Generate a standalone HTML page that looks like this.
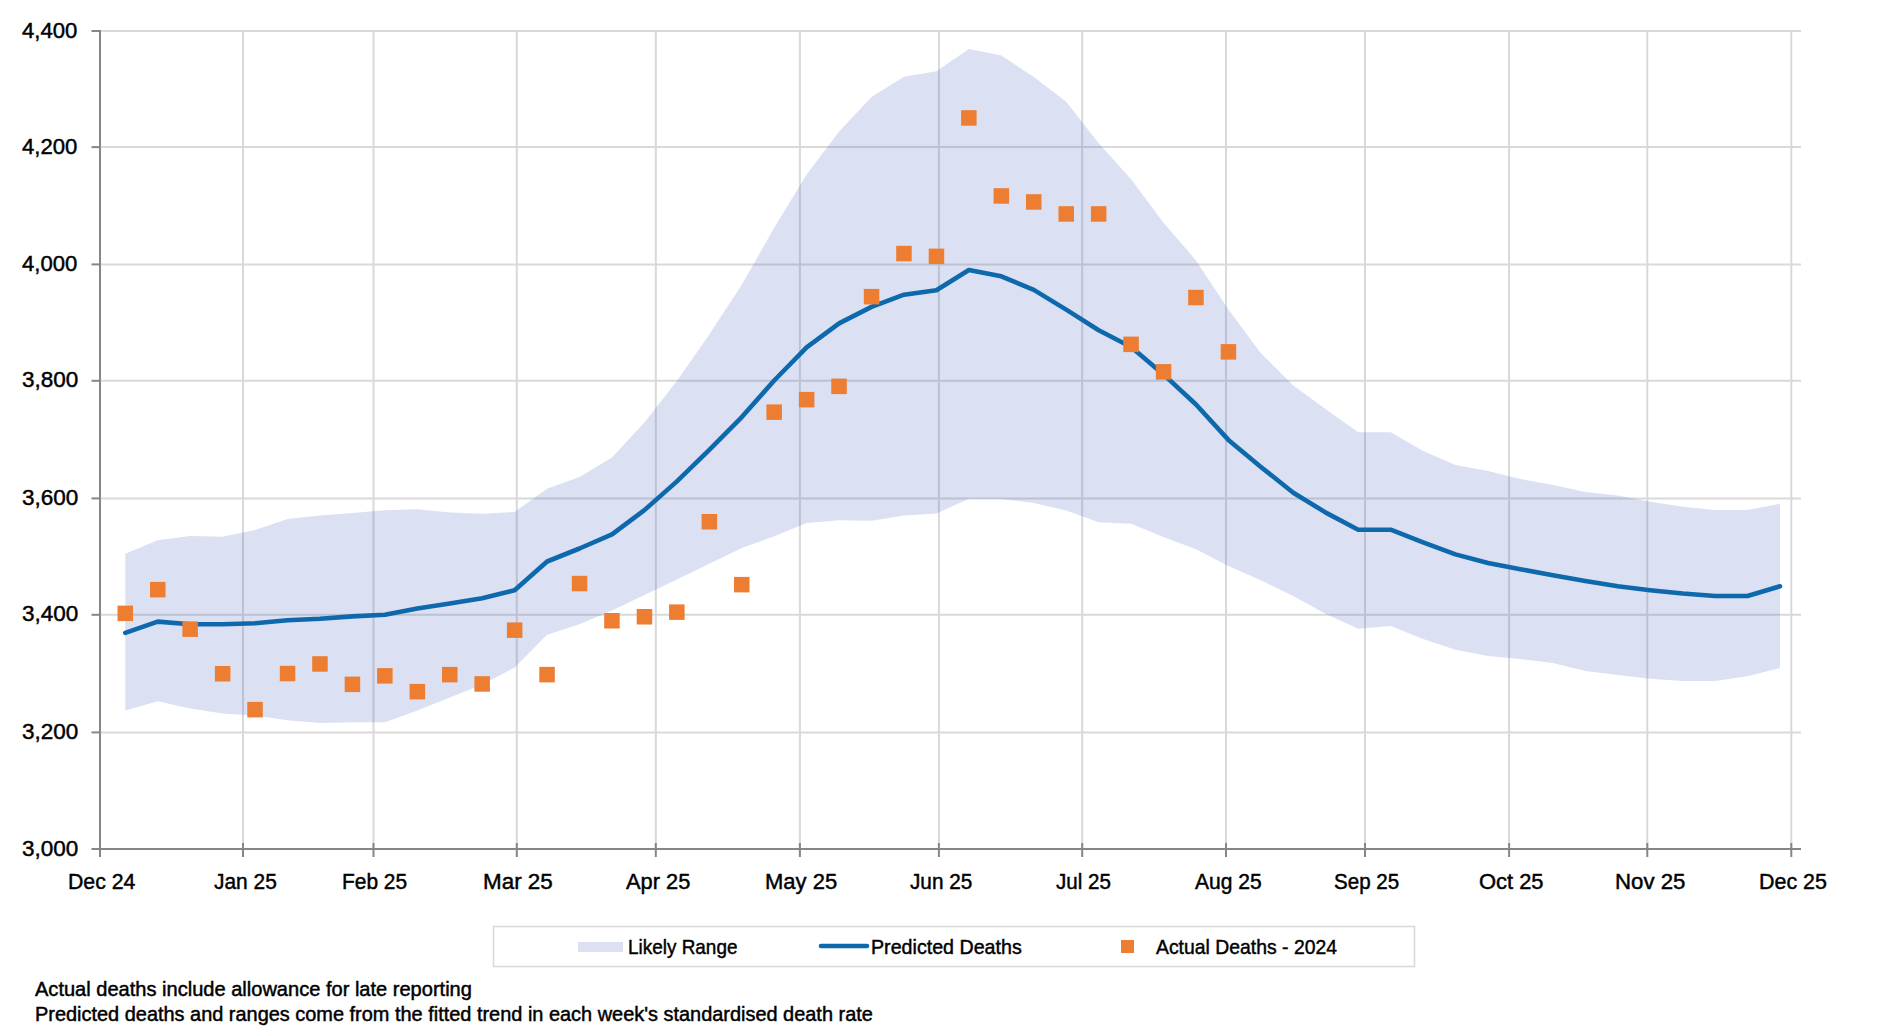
<!DOCTYPE html>
<html><head><meta charset="utf-8">
<style>
html,body{margin:0;padding:0;background:#fff;}
body{width:1886px;height:1032px;overflow:hidden;position:relative;font-family:"Liberation Sans",sans-serif;}
svg{position:absolute;left:0;top:0;}
.g{stroke:#d9d9d9;stroke-width:2;}
.ax{stroke:#868686;stroke-width:2;}
.band{fill:#4b64c3;fill-opacity:0.2;stroke:none;}
.ln{fill:none;stroke:#0e68ac;stroke-width:4.6;stroke-linejoin:round;stroke-linecap:round;}
.sq{fill:#ed7d31;}
.t{position:absolute;white-space:nowrap;line-height:1;color:#000;-webkit-text-stroke:0.45px #000;transform-origin:0 0;font-family:"Liberation Sans",sans-serif;}
.yl{font-size:22px;text-anchor:end;}
.xl{font-size:22px;text-anchor:middle;}
.xls{font-size:22px;}
.lg{font-size:21px;}
.ft{font-size:19.3px;}
</style></head><body>
<svg width="1886" height="1032" viewBox="0 0 1886 1032">
<line x1="100" y1="31" x2="1801" y2="31" class="g"/>
<line x1="100" y1="147.1" x2="1801" y2="147.1" class="g"/>
<line x1="100" y1="264.4" x2="1801" y2="264.4" class="g"/>
<line x1="100" y1="380.8" x2="1801" y2="380.8" class="g"/>
<line x1="100" y1="498.4" x2="1801" y2="498.4" class="g"/>
<line x1="100" y1="614.8" x2="1801" y2="614.8" class="g"/>
<line x1="100" y1="732.4" x2="1801" y2="732.4" class="g"/>
<line x1="243" y1="31" x2="243" y2="849" class="g"/>
<line x1="373.5" y1="31" x2="373.5" y2="849" class="g"/>
<line x1="516.8" y1="31" x2="516.8" y2="849" class="g"/>
<line x1="655.8" y1="31" x2="655.8" y2="849" class="g"/>
<line x1="799.9" y1="31" x2="799.9" y2="849" class="g"/>
<line x1="938.9" y1="31" x2="938.9" y2="849" class="g"/>
<line x1="1082.2" y1="31" x2="1082.2" y2="849" class="g"/>
<line x1="1226" y1="31" x2="1226" y2="849" class="g"/>
<line x1="1365" y1="31" x2="1365" y2="849" class="g"/>
<line x1="1509.1" y1="31" x2="1509.1" y2="849" class="g"/>
<line x1="1647.3" y1="31" x2="1647.3" y2="849" class="g"/>
<line x1="1791.3" y1="31" x2="1791.3" y2="849" class="g"/>
<polygon class="band" points="125.3,553.8 157.7,540.2 190.2,536 222.6,536.8 255.1,530 287.5,519 320,515.6 352.4,513.1 384.9,510.2 417.3,509.2 449.8,512.6 482.2,513.7 514.6,511.9 547.1,488.8 579.5,476.9 612,457.5 644.4,422.5 676.9,381 709.3,334.5 741.8,284.8 774.2,227.7 806.6,174.4 839.1,131.5 871.5,97 904,76.8 936.4,71.3 968.9,49 1001.3,55.6 1033.8,77 1066.2,101.8 1098.7,143.3 1131.1,179.2 1163.5,222.7 1196,260.4 1228.4,309.6 1260.9,353.3 1293.3,385.4 1325.8,409.3 1358.2,432.3 1390.7,432.3 1423.1,451 1455.5,464.9 1488,471 1520.4,479 1552.9,485 1585.3,492 1617.8,495.5 1650.2,501.8 1682.7,506.7 1715.1,510 1747.5,510 1780,503.7 1780,668.1 1747.5,676.3 1715.1,681 1682.7,681 1650.2,678.7 1617.8,675 1585.3,671 1552.9,663 1520.4,659 1488,656 1455.5,649.8 1423.1,639 1390.7,625.9 1358.2,628.7 1325.8,614 1293.3,596.1 1260.9,580.2 1228.4,566 1196,549.3 1163.5,537 1131.1,523.8 1098.7,522.2 1066.2,510.5 1033.8,503 1001.3,499 968.9,498.8 936.4,513.4 904,515.5 871.5,520.8 839.1,520.3 806.6,523.1 774.2,536.2 741.8,548 709.3,563.7 676.9,579.4 644.4,595.1 612,610.4 579.5,624.3 547.1,634.8 514.6,667.5 482.2,684.5 449.8,697.6 417.3,710.6 384.9,722.2 352.4,722.2 320,723.1 287.5,720.2 255.1,715.4 222.6,713.4 190.2,708.6 157.7,701.2 125.3,710.5"/>
<polyline class="ln" points="125.3,632.8 157.7,621.6 190.2,624.3 222.6,624.3 255.1,623.3 287.5,620.2 320,618.8 352.4,616.4 384.9,614.7 417.3,608.6 449.8,603.4 482.2,598.2 514.6,590.3 547.1,561.5 579.5,548.5 612,534.4 644.4,510.1 676.9,481.4 709.3,449.8 741.8,417.1 774.2,380.5 806.6,347.4 839.1,323.4 871.5,306.9 904,294.7 936.4,290.3 968.9,270 1001.3,276.3 1033.8,289.9 1066.2,309.6 1098.7,330.3 1131.1,347 1163.5,374.4 1196,404.5 1228.4,439.9 1260.9,466.9 1293.3,492.7 1325.8,512.6 1358.2,529.7 1390.7,529.7 1423.1,542.4 1455.5,554.4 1488,563 1520.4,569.2 1552.9,575.3 1585.3,581 1617.8,586.3 1650.2,590.2 1682.7,593.5 1715.1,596 1747.5,596 1780,586.3"/>
<rect class="sq" x="117.5" y="605.6" width="15.5" height="15.5"/>
<rect class="sq" x="150" y="581.9" width="15.5" height="15.5"/>
<rect class="sq" x="182.4" y="621.4" width="15.5" height="15.5"/>
<rect class="sq" x="214.9" y="666" width="15.5" height="15.5"/>
<rect class="sq" x="247.3" y="701.9" width="15.5" height="15.5"/>
<rect class="sq" x="279.8" y="665.8" width="15.5" height="15.5"/>
<rect class="sq" x="312.2" y="656.2" width="15.5" height="15.5"/>
<rect class="sq" x="344.7" y="676.6" width="15.5" height="15.5"/>
<rect class="sq" x="377.1" y="668.1" width="15.5" height="15.5"/>
<rect class="sq" x="409.6" y="683.9" width="15.5" height="15.5"/>
<rect class="sq" x="442" y="666.9" width="15.5" height="15.5"/>
<rect class="sq" x="474.4" y="676.2" width="15.5" height="15.5"/>
<rect class="sq" x="506.9" y="622.4" width="15.5" height="15.5"/>
<rect class="sq" x="539.3" y="666.9" width="15.5" height="15.5"/>
<rect class="sq" x="571.8" y="575.8" width="15.5" height="15.5"/>
<rect class="sq" x="604.2" y="613" width="15.5" height="15.5"/>
<rect class="sq" x="636.7" y="609" width="15.5" height="15.5"/>
<rect class="sq" x="669.1" y="604.4" width="15.5" height="15.5"/>
<rect class="sq" x="701.6" y="514" width="15.5" height="15.5"/>
<rect class="sq" x="734" y="576.9" width="15.5" height="15.5"/>
<rect class="sq" x="766.4" y="404.4" width="15.5" height="15.5"/>
<rect class="sq" x="798.9" y="391.9" width="15.5" height="15.5"/>
<rect class="sq" x="831.3" y="378.6" width="15.5" height="15.5"/>
<rect class="sq" x="863.8" y="288.9" width="15.5" height="15.5"/>
<rect class="sq" x="896.2" y="245.8" width="15.5" height="15.5"/>
<rect class="sq" x="928.7" y="248.6" width="15.5" height="15.5"/>
<rect class="sq" x="961.1" y="110.2" width="15.5" height="15.5"/>
<rect class="sq" x="993.6" y="188.2" width="15.5" height="15.5"/>
<rect class="sq" x="1026" y="194.2" width="15.5" height="15.5"/>
<rect class="sq" x="1058.5" y="206.2" width="15.5" height="15.5"/>
<rect class="sq" x="1090.9" y="206.2" width="15.5" height="15.5"/>
<rect class="sq" x="1123.3" y="336.6" width="15.5" height="15.5"/>
<rect class="sq" x="1155.8" y="364.1" width="15.5" height="15.5"/>
<rect class="sq" x="1188.2" y="289.8" width="15.5" height="15.5"/>
<rect class="sq" x="1220.7" y="344.1" width="15.5" height="15.5"/>
<line x1="100" y1="30" x2="100" y2="857" class="ax"/>
<line x1="91.5" y1="849" x2="1801" y2="849" class="ax"/>
<line x1="91.5" y1="31" x2="100" y2="31" class="ax"/>
<line x1="91.5" y1="147.1" x2="100" y2="147.1" class="ax"/>
<line x1="91.5" y1="264.4" x2="100" y2="264.4" class="ax"/>
<line x1="91.5" y1="380.8" x2="100" y2="380.8" class="ax"/>
<line x1="91.5" y1="498.4" x2="100" y2="498.4" class="ax"/>
<line x1="91.5" y1="614.8" x2="100" y2="614.8" class="ax"/>
<line x1="91.5" y1="732.4" x2="100" y2="732.4" class="ax"/>
<line x1="243" y1="843" x2="243" y2="857" class="ax"/>
<line x1="373.5" y1="843" x2="373.5" y2="857" class="ax"/>
<line x1="516.8" y1="843" x2="516.8" y2="857" class="ax"/>
<line x1="655.8" y1="843" x2="655.8" y2="857" class="ax"/>
<line x1="799.9" y1="843" x2="799.9" y2="857" class="ax"/>
<line x1="938.9" y1="843" x2="938.9" y2="857" class="ax"/>
<line x1="1082.2" y1="843" x2="1082.2" y2="857" class="ax"/>
<line x1="1226" y1="843" x2="1226" y2="857" class="ax"/>
<line x1="1365" y1="843" x2="1365" y2="857" class="ax"/>
<line x1="1509.1" y1="843" x2="1509.1" y2="857" class="ax"/>
<line x1="1647.3" y1="843" x2="1647.3" y2="857" class="ax"/>
<line x1="1791.3" y1="843" x2="1791.3" y2="857" class="ax"/>
<rect x="493.5" y="926.5" width="921" height="40" fill="#fff" stroke="#d9d9d9" stroke-width="1.6"/>
<rect x="578" y="942" width="45" height="10" fill="#4b64c3" fill-opacity="0.2"/>
<line x1="821" y1="946" x2="867" y2="946" stroke="#0e68ac" stroke-width="4.6" stroke-linecap="round"/>
<rect x="1121" y="940" width="13" height="13" fill="#ed7d31"/>
</svg>
<div class="t" style="left:22.20px;top:19.68px;font-size:22px;transform:scaleX(1.0047)">4,400</div>
<div class="t" style="left:22.20px;top:135.78px;font-size:22px;transform:scaleX(1.0047)">4,200</div>
<div class="t" style="left:22.20px;top:253.08px;font-size:22px;transform:scaleX(1.0047)">4,000</div>
<div class="t" style="left:22.17px;top:369.48px;font-size:22px;transform:scaleX(1.0236)">3,800</div>
<div class="t" style="left:22.17px;top:487.08px;font-size:22px;transform:scaleX(1.0236)">3,600</div>
<div class="t" style="left:22.17px;top:603.48px;font-size:22px;transform:scaleX(1.0236)">3,400</div>
<div class="t" style="left:22.17px;top:721.08px;font-size:22px;transform:scaleX(1.0236)">3,200</div>
<div class="t" style="left:22.17px;top:837.68px;font-size:22px;transform:scaleX(1.0236)">3,000</div>
<div class="t" style="left:67.65px;top:870.98px;font-size:22px;transform:scaleX(0.9669)">Dec 24</div>
<div class="t" style="left:213.82px;top:870.98px;font-size:22px;transform:scaleX(0.9502)">Jan 25</div>
<div class="t" style="left:341.87px;top:870.98px;font-size:22px;transform:scaleX(0.9512)">Feb 25</div>
<div class="t" style="left:483.17px;top:870.98px;font-size:22px;transform:scaleX(1.0190)">Mar 25</div>
<div class="t" style="left:626.00px;top:870.98px;font-size:22px;transform:scaleX(0.9923)">Apr 25</div>
<div class="t" style="left:765.00px;top:870.98px;font-size:22px;transform:scaleX(1.0000)">May 25</div>
<div class="t" style="left:909.61px;top:870.98px;font-size:22px;transform:scaleX(0.9427)">Jun 25</div>
<div class="t" style="left:1056.02px;top:870.98px;font-size:22px;transform:scaleX(0.9355)">Jul 25</div>
<div class="t" style="left:1194.81px;top:870.98px;font-size:22px;transform:scaleX(0.9566)">Aug 25</div>
<div class="t" style="left:1333.88px;top:870.98px;font-size:22px;transform:scaleX(0.9340)">Sep 25</div>
<div class="t" style="left:1478.80px;top:870.98px;font-size:22px;transform:scaleX(0.9960)">Oct 25</div>
<div class="t" style="left:1614.98px;top:870.98px;font-size:22px;transform:scaleX(1.0112)">Nov 25</div>
<div class="t" style="left:1759.45px;top:870.98px;font-size:22px;transform:scaleX(0.9739)">Dec 25</div>
<div class="t" style="left:627.52px;top:936.22px;font-size:21px;transform:scaleX(0.9016)">Likely Range</div>
<div class="t" style="left:870.65px;top:936.22px;font-size:21px;transform:scaleX(0.9359)">Predicted Deaths</div>
<div class="t" style="left:1155.80px;top:936.22px;font-size:21px;transform:scaleX(0.9230)">Actual Deaths - 2024</div>
<div class="t" style="left:34.80px;top:979.66px;font-size:19.3px;transform:scaleX(1.0399)">Actual deaths include allowance for late reporting</div>
<div class="t" style="left:34.75px;top:1005.16px;font-size:19.3px;transform:scaleX(1.0334)">Predicted deaths and ranges come from the fitted trend in each week&#39;s standardised death rate</div>
</body></html>
